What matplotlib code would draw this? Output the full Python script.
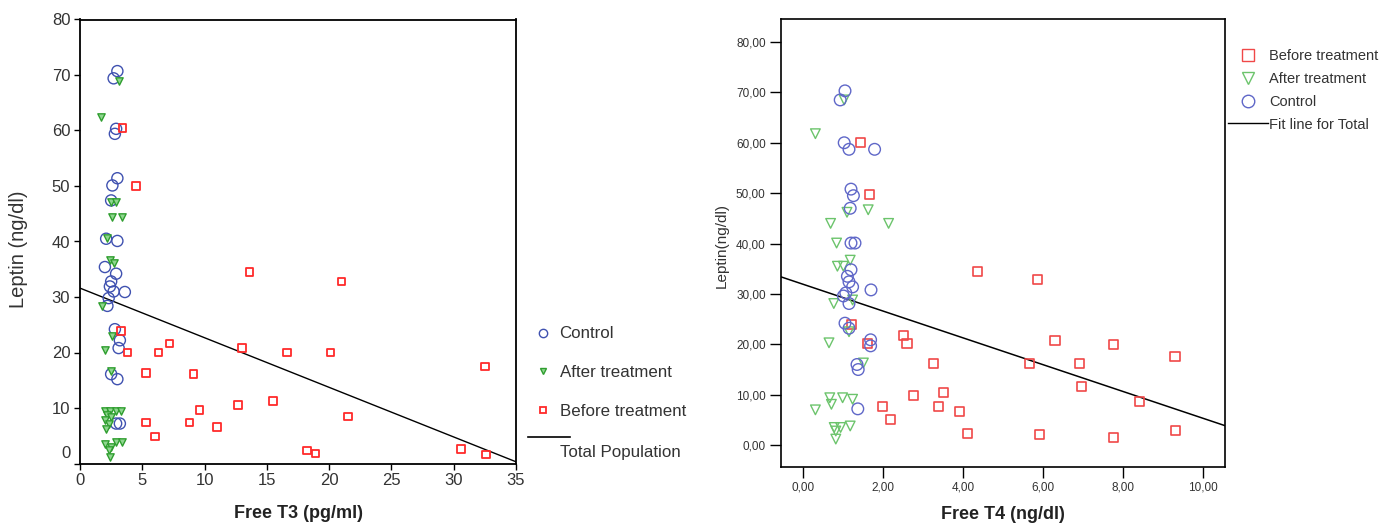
import matplotlib
matplotlib.use("Agg")
import matplotlib.pyplot as plt
from matplotlib.lines import Line2D
from matplotlib.ticker import FuncFormatter
from matplotlib.transforms import ScaledTranslation
import matplotlib.font_manager as fm

# ---------------- data ----------------
# Left panel: Free T3 (pg/ml) vs Leptin (ng/dl)
control_t3 = [3.0, 2.7, 2.9, 2.8, 3.0, 2.6, 2.5, 2.1, 3.0, 2.0, 2.9, 2.5, 2.4, 2.7, 3.6,
              2.3, 2.2, 2.8, 3.2, 3.1, 2.5, 3.0, 2.9, 3.2]
control_lep_l = [70.7, 69.4, 60.3, 59.4, 51.4, 50.1, 47.4, 40.5, 40.1, 35.4, 34.2, 32.8, 31.9,
                 31.0, 30.9, 29.8, 28.4, 24.2, 22.2, 20.8, 16.1, 15.2, 7.2, 7.2]
after_t3 = [3.15, 1.7, 2.5, 2.9, 2.6, 3.4, 2.2, 2.4, 2.7, 1.8, 2.6, 2.0, 2.5,
            2.0, 2.4, 2.9, 3.3, 2.2, 2.5, 2.0, 2.3, 2.1,
            2.0, 2.5, 2.9, 3.35, 2.3, 2.4]
after_lep_l = [69.0, 62.4, 47.1, 47.1, 44.4, 44.4, 40.6, 36.6, 36.2, 28.4, 22.9, 20.5, 16.6,
               9.5, 9.5, 9.5, 9.5, 8.7, 8.4, 7.8, 7.2, 6.3,
               3.6, 3.0, 3.8, 3.8, 2.4, 1.2]
before_t3 = [3.4, 4.5, 3.3, 3.8, 6.3, 7.2, 5.3, 5.3, 6.0, 13.6, 21.0, 13.0, 16.6, 20.1, 32.5,
             9.1, 12.7, 15.5, 9.6, 8.8, 11.0, 21.5, 18.2, 18.9, 30.6, 32.6]
before_lep_l = [60.4, 50.0, 23.9, 20.0, 20.0, 21.6, 16.3, 7.4, 4.9, 34.5, 32.8, 20.8, 20.0, 20.0,
                17.5, 16.1, 10.5, 11.3, 9.6, 7.4, 6.6, 8.5, 2.35, 1.8, 2.6, 1.6]
fit_left = [31.6, -0.894]          # intercept, slope (Total Population)

# Right panel: Free T4 (ng/dl) vs Leptin (ng/dl)
before_t4 = [1.42, 1.65, 4.36, 5.85, 1.21, 2.50, 2.59, 1.60, 6.29, 7.75, 9.29, 3.25, 5.65, 6.91,
             6.96, 8.41, 2.76, 3.50, 1.98, 3.38, 3.90, 2.17, 4.10, 5.91, 7.75, 9.31]
before_lep_r = [60.0, 49.7, 34.5, 32.8, 24.0, 21.7, 20.1, 20.1, 20.8, 20.0, 17.6, 16.2, 16.2, 16.2,
                11.6, 8.7, 9.9, 10.4, 7.6, 7.6, 6.7, 5.0, 2.4, 2.1, 1.5, 3.0]
after_t4 = [1.02, 0.3, 1.62, 1.09, 0.68, 2.13, 0.83, 1.17, 0.85, 1.0, 0.76, 1.23, 0.64, 1.14, 1.5,
            0.66, 0.98, 1.23, 0.7, 0.3, 0.77, 0.93, 1.17, 0.81, 0.81]
after_lep_r = [68.5, 61.8, 46.7, 46.2, 44.0, 44.0, 40.1, 36.7, 35.5, 35.5, 28.1, 28.8, 20.3, 22.5,
               16.3, 9.4, 9.4, 9.1, 8.1, 7.0, 3.5, 3.5, 3.8, 2.8, 1.2]
control_t4 = [1.04, 0.92, 1.02, 1.14, 1.78, 1.19, 1.25, 1.17, 1.19, 1.29, 1.19, 1.1, 1.14, 1.23,
              1.69, 1.06, 1.0, 1.14, 1.04, 1.14, 1.68, 1.68, 1.34, 1.37, 1.36]
control_lep_r = [70.3, 68.5, 60.0, 58.7, 58.7, 50.8, 49.5, 47.0, 40.1, 40.1, 34.8, 33.5, 32.4, 31.4,
                 30.8, 30.2, 29.6, 28.1, 24.2, 23.2, 20.9, 19.7, 16.0, 15.0, 7.2]
fit_right = [31.9, -2.66]

left_xticks = [0, 5, 10, 15, 20, 25, 30, 35]
left_yticks = [0, 10, 20, 30, 40, 50, 60, 70, 80]
right_xticks = [0, 2, 4, 6, 8, 10]
right_yticks = [0, 10, 20, 30, 40, 50, 60, 70, 80]

# ---------------- style ----------------
names = {f.name for f in fm.fontManager.ttflist}
NARROW = "Liberation Sans Narrow" if "Liberation Sans Narrow" in names else "Liberation Sans"
plt.rcParams["font.family"] = ["Liberation Sans", "DejaVu Sans"]

W, H = 1397, 525
fig = plt.figure(figsize=(W / 100, H / 100), dpi=100)

def box(l, t, r, b):
    return [l / W, 1 - b / H, (r - l) / W, (b - t) / H]

TXT = "#333333"
BLUE_L, GREEN_L, RED_L = "#3f51b0", "#2f9e2f", "#ff2a2a"
BLUE_R, GREEN_R, RED_R = "#5f67c8", "#6cc46c", "#f04848"

# ---------------- left panel ----------------
axL = fig.add_axes(box(80, 19.5, 516, 463.5))
axL.scatter(control_t3, control_lep_l, s=64, facecolors="none", edgecolors=BLUE_L,
            linewidths=1.0, zorder=3)
axL.scatter(after_t3, after_lep_l, marker="v", s=28, facecolors="#8fd68f",
            edgecolors=GREEN_L, linewidths=1.0, zorder=3)
axL.scatter(before_t3, before_lep_l, marker="s", s=30, facecolors="none",
            edgecolors=RED_L, linewidths=1.3, zorder=3)
axL.axline((0, fit_left[0]), slope=fit_left[1], color="black", lw=1.0, zorder=2)
axL.set_xlim(0, 35)
axL.set_ylim(0, 80)
axL.set_xticks(left_xticks)
axL.set_yticks(left_yticks)
axL.tick_params(direction="out", length=4, width=1.0, labelsize=12, colors="black",
                labelcolor=TXT, pad=3)
for sp in axL.spines.values():
    sp.set_linewidth(1.3)
# the "0" label of the y axis sits a little above its tick in the reference
zero_lab = axL.yaxis.get_major_ticks()[0].label1
zero_lab.set_transform(zero_lab.get_transform() + ScaledTranslation(0, 0.11, fig.dpi_scale_trans))
axL.set_xlabel("Free T3 (pg/ml)", fontsize=13, fontweight="bold", family=NARROW,
               color="#222222", labelpad=12)
axL.set_ylabel("Leptin (ng/dl)", fontsize=14.5, color=TXT)
axL.yaxis.set_label_coords((28 - 80) / 436, (463.5 - 249) / 444)

hL = [Line2D([], [], ls="none", marker="o", ms=6, mfc="none", mec=BLUE_L),
      Line2D([], [], ls="none", marker="v", ms=5, mfc="#8fd68f", mec=GREEN_L),
      Line2D([], [], ls="none", marker="s", ms=5, mfc="none", mec=RED_L, mew=1.3)]
axL.legend(hL, ["Control", "After treatment", "Before treatment"],
           loc="upper left", bbox_to_anchor=(524 / W, 1 - 318 / H),
           bbox_transform=fig.transFigure, frameon=False, fontsize=12.2,
           handlelength=1.2, handletextpad=0.4, labelspacing=1.4, borderpad=0,
           labelcolor=TXT)
fig.add_artist(Line2D([528 / W, 570 / W], [1 - 437 / H, 1 - 437 / H], color="black", lw=1.2))
fig.text(560 / W, 1 - 453 / H, "Total Population", fontsize=12.2, color=TXT, va="center")

# ---------------- right panel ----------------
axR = fig.add_axes(box(781, 19.3, 1225, 467.3))
axR.scatter(before_t4, before_lep_r, marker="s", s=42, facecolors="none",
            edgecolors=RED_R, linewidths=1.2, zorder=3)
axR.scatter(after_t4, after_lep_r, marker="v", s=48, facecolors="none",
            edgecolors=GREEN_R, linewidths=1.0, zorder=3)
axR.scatter(control_t4, control_lep_r, s=70, facecolors="none",
            edgecolors=BLUE_R, linewidths=1.0, zorder=3)
axR.axline((0, fit_right[0]), slope=fit_right[1], color="black", lw=1.1, zorder=2)
axR.set_xlim(-0.56, 10.54)
axR.set_ylim(-4.4, 84.5)
axR.set_xticks(right_xticks)
axR.set_yticks(right_yticks)
fmt = FuncFormatter(lambda v, p: f"{v:.2f}".replace(".", ","))
axR.xaxis.set_major_formatter(fmt)
axR.yaxis.set_major_formatter(fmt)
axR.tick_params(direction="out", length=8, width=1.0, labelsize=8.5, colors="black",
                labelcolor=TXT, pad=3)
axR.tick_params(axis="x", pad=2)
for sp in axR.spines.values():
    sp.set_linewidth(1.2)
axR.set_xlabel("Free T4 (ng/dl)", fontsize=13, fontweight="bold", family=NARROW,
               color="#222222", labelpad=9)
axR.set_ylabel("Leptin(ng/dl)", fontsize=11, family=NARROW, color=TXT)
axR.yaxis.set_label_coords((729 - 781) / 444, (467.3 - 245) / 448)

hR = [Line2D([], [], ls="none", marker="s", ms=8, mfc="none", mec=RED_R, mew=1.0),
      Line2D([], [], ls="none", marker="v", ms=9, mfc="none", mec=GREEN_R),
      Line2D([], [], ls="none", marker="o", ms=9, mfc="none", mec=BLUE_R),
      Line2D([], [], color="black", lw=1.0)]
axR.legend(hR, ["Before treatment", "After treatment", "Control", "Fit line for Total"],
           loc="upper left", bbox_to_anchor=(1221 / W, 1 - 42 / H),
           bbox_transform=fig.transFigure, frameon=False, fontsize=10.5,
           handlelength=2.75, handletextpad=0.05, labelspacing=0.6, borderpad=0,
           labelcolor=TXT)

fig.savefig("out.png", dpi=100)
